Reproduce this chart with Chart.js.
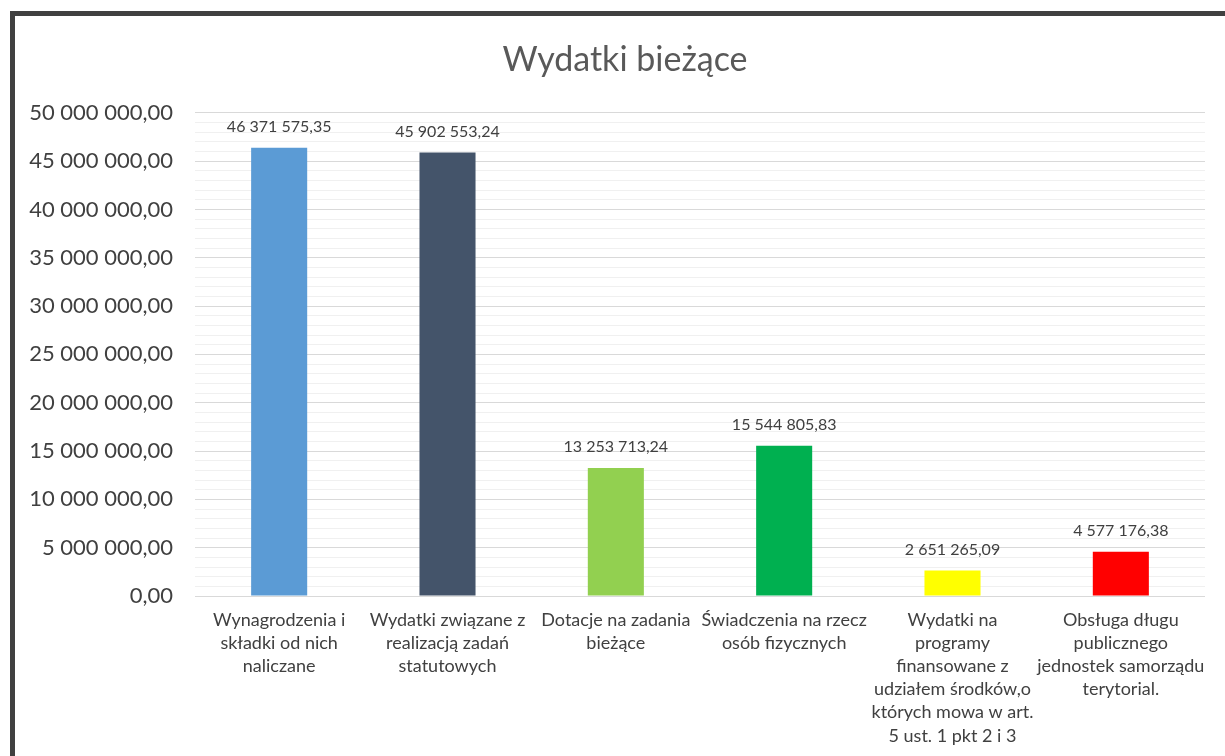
<!DOCTYPE html>
<html lang="pl">
<head>
<meta charset="utf-8">
<title>Wydatki bieżące</title>
<script src="https://cdn.jsdelivr.net/npm/chart.js@4.4.1/dist/chart.umd.min.js"></script>
<style>
  html, body { margin: 0; padding: 0; background: #fff; overflow: hidden; width: 1225px; height: 756px; }
  #frame { position: absolute; left: 10px; top: 11px; width: 1300px; height: 800px;
           border-left: 5px solid #404040; border-top: 5px solid #404040; }
  #wrap { position: absolute; left: 15px; top: 16px; width: 1220px; height: 740px; }
</style>
</head>
<body>
<div id="frame"></div>
<div id="wrap"><canvas id="chart"></canvas></div>
<script>
// dane
const categories = [
  ['Wynagrodzenia i', 'składki od nich', 'naliczane'],
  ['Wydatki związane z', 'realizacją zadań', 'statutowych'],
  ['Dotacje na zadania', 'bieżące'],
  ['Świadczenia na rzecz', 'osób fizycznych'],
  ['Wydatki na', 'programy', 'finansowane z', 'udziałem środków,o', 'których mowa w art.', '5 ust. 1 pkt 2 i 3'],
  ['Obsługa długu', 'publicznego', 'jednostek samorządu', 'terytorial.']
];
const values = [46371575.35, 45902553.24, 13253713.24, 15544805.83, 2651265.09, 4577176.38];
const barColors = ['#5B9BD5', '#44546A', '#92D050', '#00B050', '#FFFF00', '#FF0000'];
const yMax = 50000000;
const yMajorStep = 5000000;
const yMinorStep = 1000000;

const FONT = 'Lato, "Open Sans", sans-serif';

// 46 371 575,35
function plNum(v) {
  const parts = v.toFixed(2).split('.');
  return parts[0].replace(/\B(?=(\d{3})+(?!\d))/g, ' ') + ',' + parts[1];
}

// etykiety nad słupkami
const valueLabels = {
  id: 'valueLabels',
  afterDatasetsDraw(chart) {
    const ctx = chart.ctx;
    const meta = chart.getDatasetMeta(0);
    ctx.save();
    ctx.font = '16px ' + FONT;
    ctx.fillStyle = '#404040';
    ctx.textAlign = 'center';
    ctx.textBaseline = 'middle';
    meta.data.forEach((bar, i) => {
      ctx.fillText(plNum(values[i]), bar.x, bar.y - 21);
    });
    ctx.restore();
  }
};

new Chart(document.getElementById('chart'), {
  type: 'bar',
  data: {
    labels: categories,
    datasets: [{
      data: values,
      backgroundColor: barColors,
      borderWidth: 0,
      barPercentage: 0.333,
      categoryPercentage: 1
    }]
  },
  options: {
    responsive: true,
    maintainAspectRatio: false,
    animation: false,
    layout: { padding: 0 },
    plugins: {
      legend: { display: false },
      tooltip: { enabled: false },
      title: {
        display: true,
        text: 'Wydatki bieżące',
        color: '#595959',
        font: { family: FONT, size: 34, weight: 'normal' },
        padding: { top: 24, bottom: 32 }
      }
    },
    scales: {
      x: {
        grid: { display: false },
        border: { display: false },
        ticks: {
          color: '#404040',
          font: { family: FONT, size: 18, lineHeight: 1.28 },
          padding: 5,
          maxRotation: 0,
          autoSkip: false
        },
        afterFit(scale) { scale.height = 160; }
      },
      y: {
        min: 0,
        max: yMax,
        border: { display: false },
        grid: {
          drawTicks: false,
          color: ctx => (ctx.tick && ctx.tick.value % yMajorStep === 0) ? '#d9d9d9' : '#f0f0f0',
          lineWidth: 1
        },
        ticks: {
          stepSize: yMinorStep,
          autoSkip: false,
          color: '#404040',
          font: { family: FONT, size: 22 },
          padding: 22,
          callback: v => (v % yMajorStep === 0) ? plNum(v) : ''
        },
        afterFit(scale) { scale.width = 180; }
      },
      // pusty margines po prawej
      yRight: {
        position: 'right',
        min: 0,
        max: yMax,
        grid: { display: false },
        border: { display: false },
        ticks: { display: false },
        afterFit(scale) { scale.width = 30; }
      }
    }
  },
  plugins: [valueLabels]
});
</script>
</body>
</html>
